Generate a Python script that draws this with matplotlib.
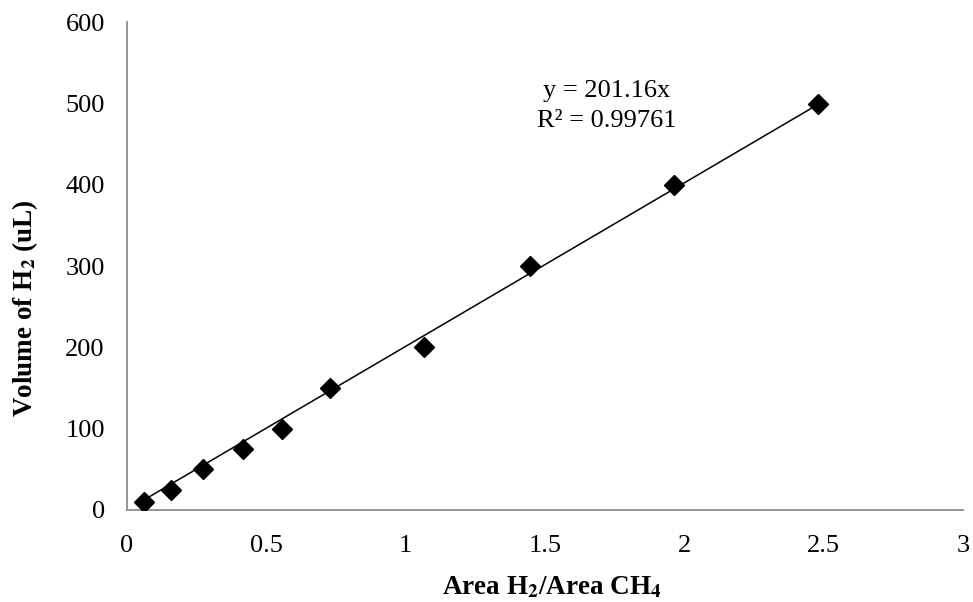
import matplotlib.pyplot as plt

plt.rcParams['font.family'] = ['Liberation Serif', 'DejaVu Serif']
plt.rcParams['mathtext.fontset'] = 'stix'

# H2 calibration: area ratio vs injected volume
area_ratio = [0.061, 0.158, 0.272, 0.415, 0.556, 0.728, 1.066, 1.446, 1.963, 2.48]
volume_h2 = [10, 25, 50, 75, 100, 150, 200, 300, 400, 500]
slope = 201.16
r2 = 0.99761

fig = plt.figure(figsize=(9.73, 6.02), dpi=100)
ax = fig.add_axes([0.1305, 0.153, 0.859, 0.81])

# trendline through origin over the data range
xs = [min(area_ratio), max(area_ratio)]
ax.plot(xs, [slope * v for v in xs], color='black', lw=1.1, zorder=2)
ax.plot(area_ratio, volume_h2, 'D', color='black', ms=10.5, zorder=3)

ax.text(1.722, 516, 'y = %.2fx' % slope, ha='center', va='center', fontsize=19)
ax.text(1.722, 478, 'R² = %.5f' % r2, ha='center', va='center', fontsize=19)

ax.set_xlim(0, 3)
ax.set_ylim(0, 600)
ax.set_xticks([0, 0.5, 1, 1.5, 2, 2.5, 3])
ax.set_xticklabels(['0', '0.5', '1', '1.5', '2', '2.5', '3'])
ax.set_yticks([0, 100, 200, 300, 400, 500, 600])
ax.tick_params(axis='x', length=0, pad=18, labelsize=19)
ax.tick_params(axis='y', length=0, pad=16, labelsize=19)

for s in ['top', 'right']:
    ax.spines[s].set_visible(False)
for s in ['left', 'bottom']:
    ax.spines[s].set_color('#8c8c8c')
    ax.spines[s].set_linewidth(1.3)

ax.set_xlabel(r'Area H$_\mathbf{2}$/Area CH$_\mathbf{4}$', fontsize=19.5, fontweight='bold')
ax.set_ylabel(r'Volume of H$_\mathbf{2}$ (uL)', fontsize=19.5, fontweight='bold')
ax.xaxis.set_label_coords(0.508, -0.134)
ax.yaxis.set_label_coords(-0.104, 0.414)

fig.savefig('out.png', dpi=100)
